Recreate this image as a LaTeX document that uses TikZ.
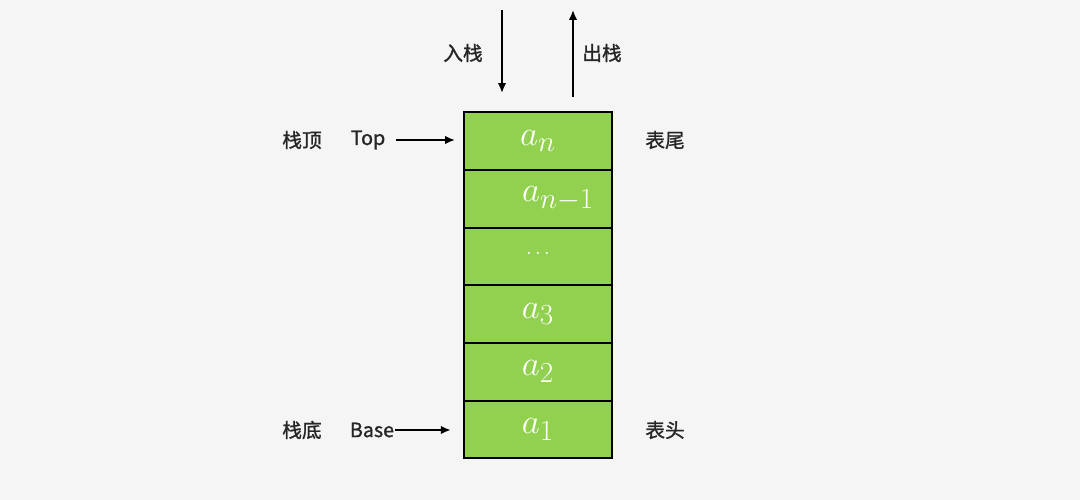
\documentclass[tikz,border=0pt]{standalone}
\usepackage{fontspec}
\newfontfamily\cjk[FakeBold=1.2]{Noto Sans CJK SC}
\usetikzlibrary{positioning, arrows.meta}
\definecolor{cellgreen}{HTML}{92D050}
\definecolor{pagegray}{HTML}{F5F5F5}

\begin{document}
\begin{tikzpicture}[
		x=0.025cm, y=-0.025cm,
		>={Latex[length=7pt,width=6pt]},
		node distance=0pt,
		cell/.style={draw, line width=1.4pt, fill=cellgreen, outer sep=0pt, inner sep=0pt,
			minimum width=3.7cm, minimum height=1.4417cm, text=white, font=\fontsize{28}{28}\selectfont},
		tag/.style={font=\cjk\fontsize{14}{14}\selectfont, text=black!85},
		flow/.style={->, line width=1.3pt}]

	\fill[pagegray] (0,0) rectangle (1080,500);

	% the stack, top to bottom
	\node[cell] at (538,141) (an) {$a_n$};
	\node[cell, below=of an] (an1) {\hspace*{1cm}$a_{n-1}$};
	\node[cell, below=of an1] (dots) {\raisebox{4pt}{\fontsize{14}{14}\selectfont$\cdots$}};
	\node[cell, below=of dots] (a3) {$a_3$};
	\node[cell, below=of a3] (a2) {$a_2$};
	\node[cell, below=of a2] (a1) {$a_1$};

	% push and pop
	\coordinate (push_start) at (502,10);
	\coordinate (push_end) at (502,93);
	\coordinate (pop_start) at (573,97);
	\coordinate (pop_end) at (573,10);
	\node[tag] at (463,53) (push) {入栈};
	\node[tag] at (602,53) (pop) {出栈};
	\draw[flow] (push_start) -- (push_end);
	\draw[flow] (pop_start) -- (pop_end);

	% pointers on the left
	\node[tag] at (368,140) (top) {Top};
	\node[tag] at (302,140) (top_name) {栈顶};
	\node[tag] at (372,430) (base) {Base};
	\node[tag] at (302,430) (base_name) {栈底};
	\draw[flow, shorten >=0.225cm] ([xshift=0.15cm]top.east) -- (top.east -| an.west);
	\draw[flow, shorten >=0.225cm] ([xshift=-3pt]base.east) -- ([xshift=-3pt]base.east -| a1.west);

	% names on the right
	\node[tag] at (665,140) (tail) {表尾};
	\node[tag] at (665,430) (head) {表头};

\end{tikzpicture}
\end{document}
